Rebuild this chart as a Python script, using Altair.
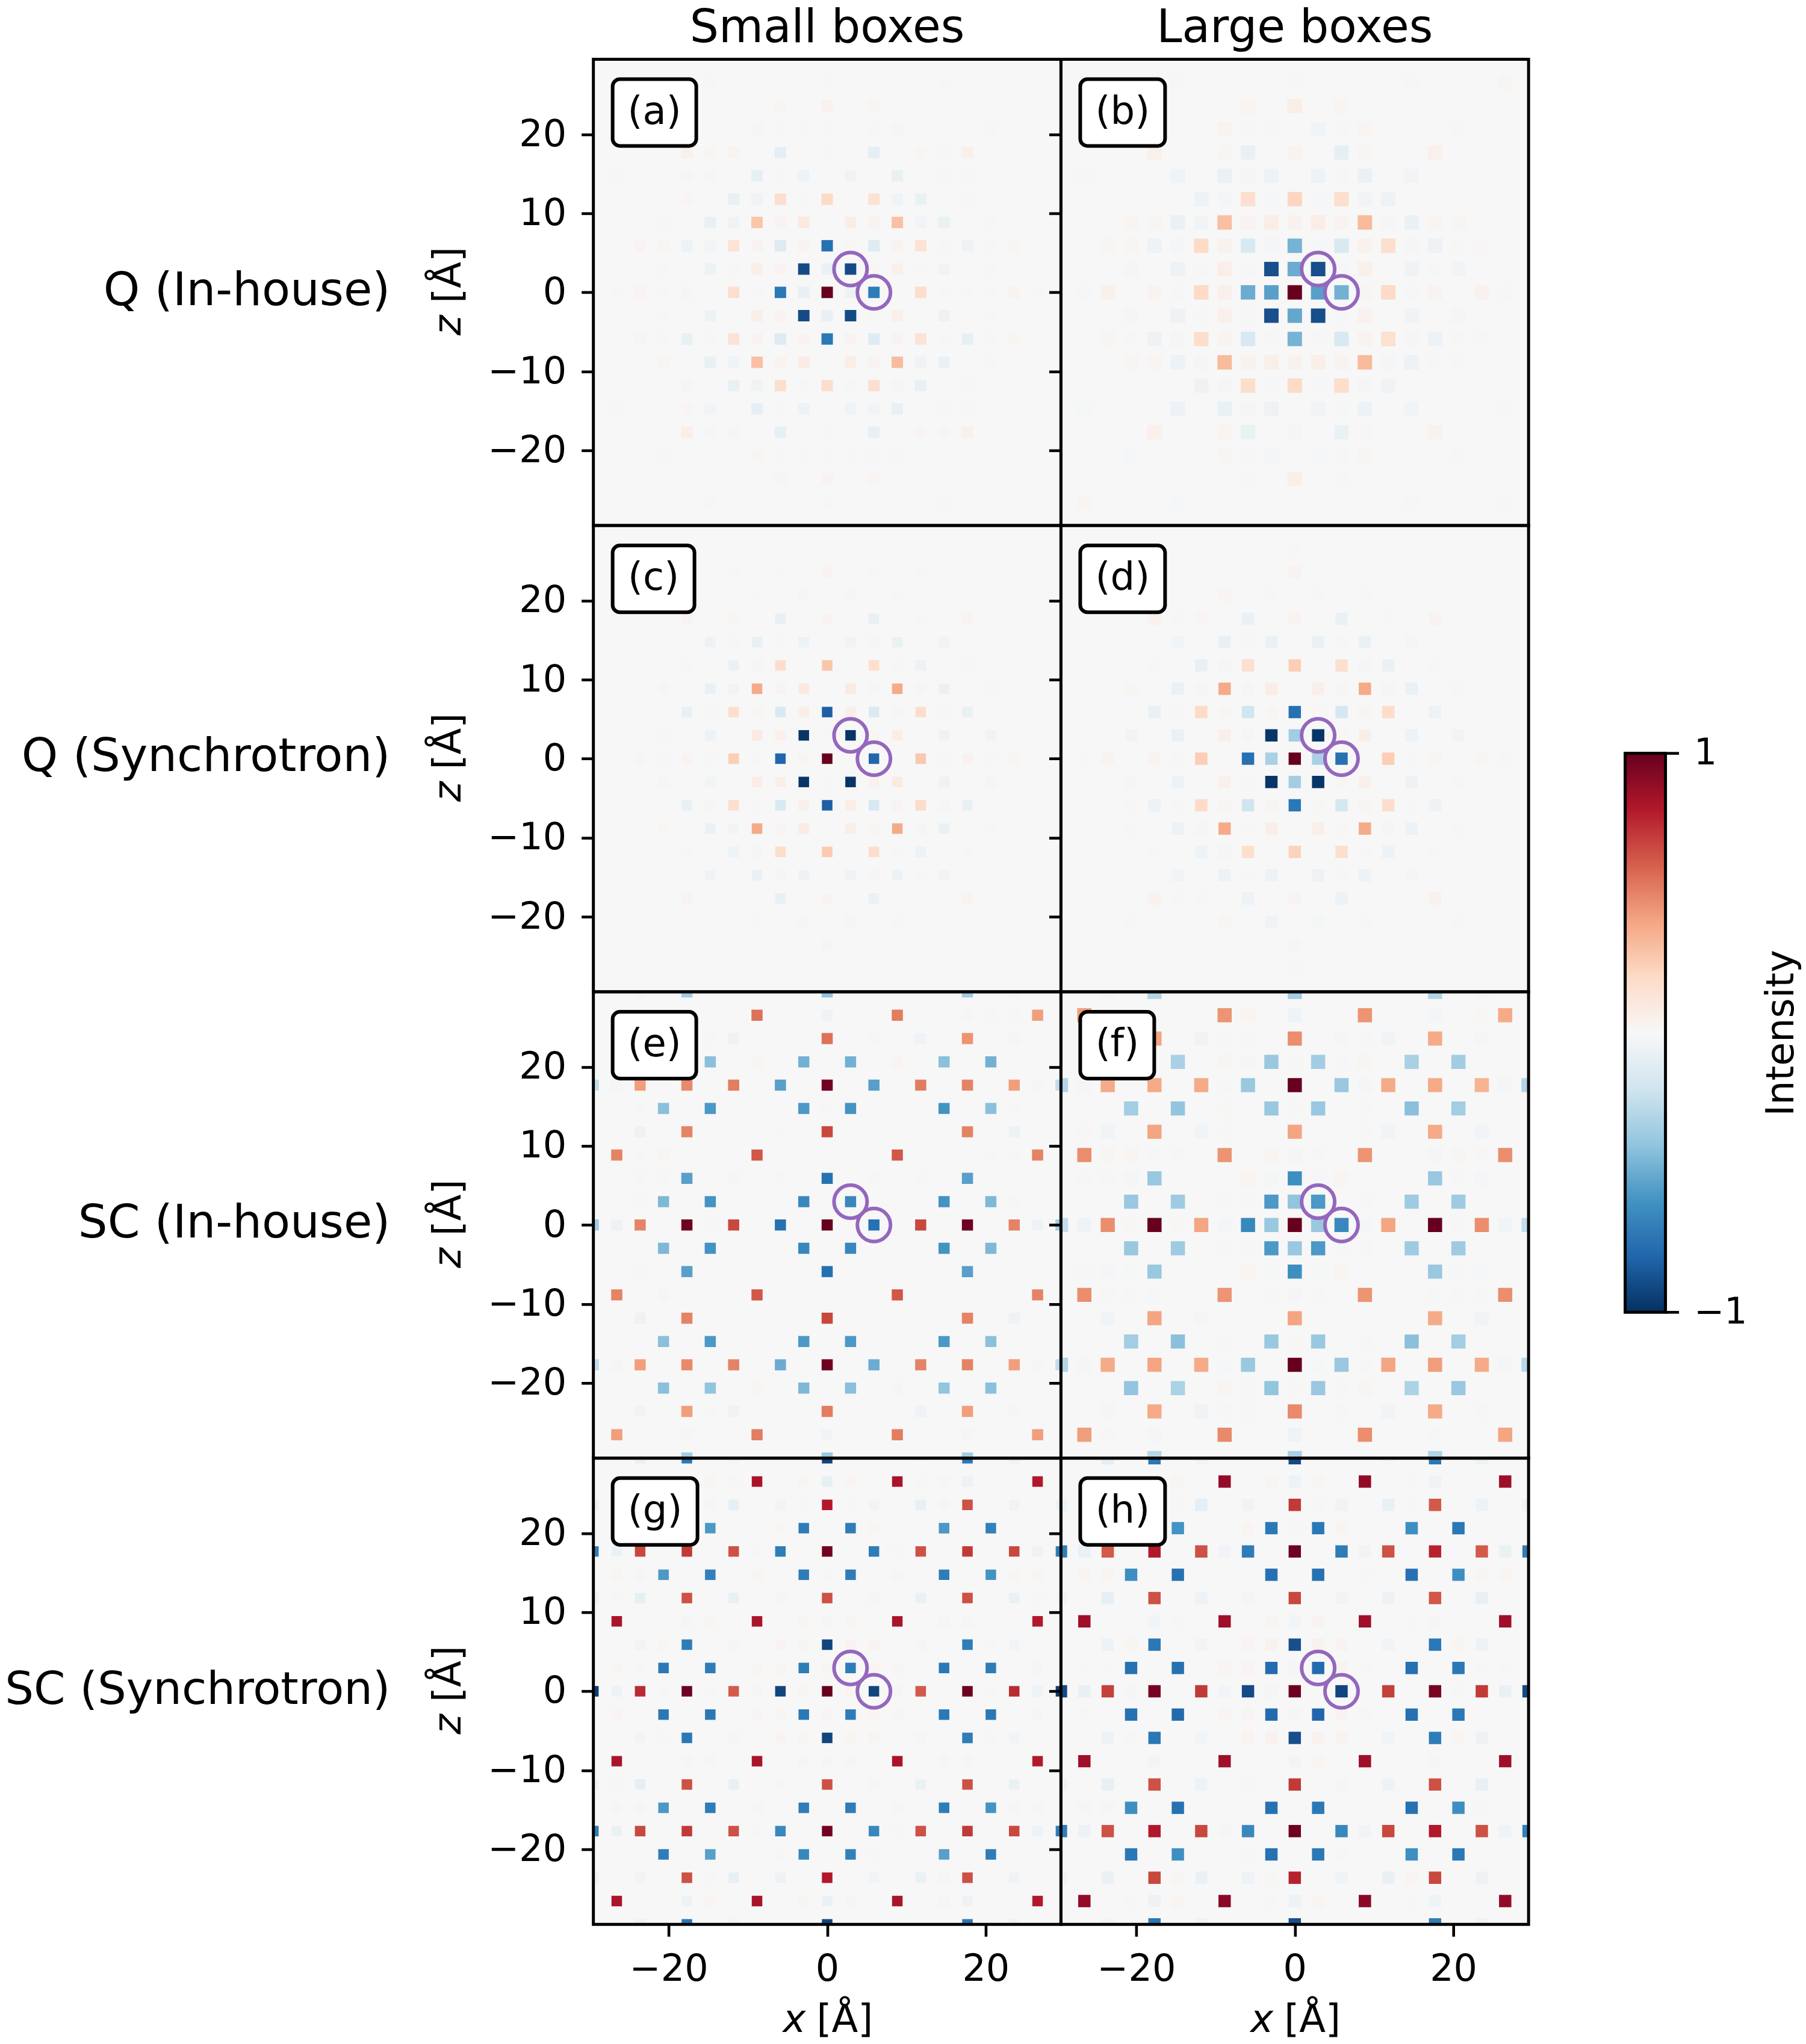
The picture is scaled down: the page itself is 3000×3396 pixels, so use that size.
import altair as alt
import pandas as pd

STEP = 2.95
PX_PER_UNIT = 777 / 59
W, H = 777, 774.7
FONT = "DejaVu Sans"

COLUMN_TITLES = ["Small boxes", "Large boxes"]
ROW_TITLES = ["Q (In-house)", "Q (Synchrotron)", "SC (In-house)", "SC (Synchrotron)"]
ROW_TITLE_SIZES = [77, 77, 77, 75.3]
PANEL_TAGS = ["(a)", "(b)", "(c)", "(d)", "(e)", "(f)", "(g)", "(h)"]
BOX_WIDTHS = [139, 141, 136, 141, 139, 123, 141, 141]
SQUARE_PX = [19, 24, 17.5, 20.5, 18.5, 23.5, 17.5, 20.5]
X_TICKS = [-20, 0, 20]
Z_TICKS = [-20, -10, 0, 10, 20]
CIRCLE_X = [2.95, 5.9]
CIRCLE_Z = [2.95, 0]
COLOR_DOMAIN = [-1, -0.8, -0.6, -0.4, -0.2, 0, 0.2, 0.4, 0.6, 0.8, 1]
COLOR_RANGE = ["#053061", "#2166ac", "#4393c3", "#92c5de", "#d1e5f0", "#f7f7f7",
               "#fddbc7", "#f4a582", "#d6604d", "#b2182b", "#67001f"]

# Intensity x 100; outer key is the grid row (z / 2.95), inner key the grid column (x / 2.95)
PANEL_A = {
 9: {-5:-1, 0:-1, 5:-1},
 8: {-2:2, 0:4, 2:2},
 7: {-3:2, -2:1, -1:-1, 0:-1, 2:1, 3:2, 7:-1},
 6: {-6:5, -5:2, -4:3, -2:-10, 0:1, 2:-10, 4:2, 5:1, 6:5},
 5: {-9:-1, -6:2, -5:-2, -3:-9, -2:-1, -1:-6, 1:-4, 3:-8, 5:-1, 6:1},
 4: {-6:2, -4:-8, -3:-4, -2:17, -1:-1, 0:20, 2:15, 3:-4, 4:-7, 6:1},
 3: {-7:-1, -5:-8, -4:-4, -3:28, -2:3, -1:10, 1:7, 2:3, 3:30, 4:-3, 5:-7, 7:1},
 2: {-8:3, -7:2, -6:-6, -5:-3, -4:14, -3:3, -2:-14, -1:3, 0:-75, 1:1, 2:-13, 3:3, 4:14, 5:-1, 6:-5, 7:1, 8:2},
 1: {-7:-1, -5:-5, -4:1, -3:6, -2:3, -1:-90, 0:-7, 1:-90, 2:1, 3:5, 4:1, 5:-4, 7:-1},
 0: {-9:-1, -8:3, -7:-1, -6:2, -4:17, -3:-1, -2:-72, -1:-8, 0:100, 1:-5, 2:-70, 4:18, 5:-1, 6:1, 7:-1, 8:3, 9:-1},
 -1: {-7:-1, -5:-5, -3:6, -2:3, -1:-90, 0:-8, 1:-90, 2:1, 3:5, 5:-5, 7:-1},
 -2: {-8:2, -7:-1, -6:-8, -5:-1, -4:14, -3:3, -2:-14, -1:3, 0:-72, 1:3, 2:-13, 3:3, 4:14, 5:-1, 6:-9, 7:-1, 8:2},
 -3: {-7:2, -5:-8, -4:-4, -3:30, -2:3, -1:8, 1:7, 2:3, 3:32, 4:-4, 5:-7, 7:1},
 -4: {-6:2, -4:-8, -3:-4, -2:17, -1:-1, 0:18, 1:-1, 2:17, 3:-2, 4:-8, 6:1},
 -5: {-9:-1, -6:2, -5:-3, -3:-9, -2:-1, -1:-5, 1:-4, 2:-3, 3:-8, 5:-1, 6:1},
 -6: {-6:6, -5:2, -4:2, -2:-9, 0:1, 2:-8, 4:2, 5:2, 6:5},
 -7: {-7:-1, -3:2, -2:1, -1:-1, 0:-1, 1:-1, 2:1, 3:1},
 -8: {-2:2, 0:3, 2:2},
 -9: {-5:-1, 0:-1, 5:-1},
}
PANEL_B = {
 9: {-5:-1, 0:-1, 5:-1, 9:2},
 8: {-2:2, 0:7, 2:2},
 7: {-3:3, -2:1, -1:-1, 1:-3, 2:1, 3:2, 7:-1},
 6: {-6:5, -3:2, -2:-8, 0:3, 2:-9, 3:2, 6:5},
 5: {-9:-1, -5:-4, -3:-7, -2:-2, -1:-5, 1:-5, 2:-1, 3:-7, 5:-3},
 4: {-4:-6, -3:-2, -2:17, -1:-1, 0:22, 1:-1, 2:17, 3:-3, 4:-5},
 3: {-7:2, -6:2, -5:-7, -4:-3, -3:30, -2:3, -1:7, 0:4, 1:7, 2:3, 3:32, 4:-2, 5:-7, 6:2, 7:2},
 2: {-8:2, -7:2, -6:-6, -5:-2, -4:20, -3:4, -2:-16, -1:-2, 0:-47, 1:-1, 2:-16, 3:4, 4:17, 5:-2, 6:-5, 7:1, 8:1},
 1: {-7:-2, -5:-5, -4:-1, -3:6, -2:-1, -1:-88, 0:-50, 1:-88, 2:-1, 3:5, 5:-4, 6:-1, 7:-3},
 0: {-9:-1, -8:5, -6:3, -5:-1, -4:20, -3:5, -2:-50, -1:-55, 0:100, 1:-55, 2:-48, 3:2, 4:20, 5:-1, 6:3, 8:4, 9:-1},
 -1: {-7:-2, -5:-5, -4:-1, -3:5, -2:-1, -1:-88, 0:-52, 1:-88, 2:-1, 3:4, 5:-4, 7:-2},
 -2: {-8:2, -7:1, -6:-5, -5:-2, -4:18, -3:3, -2:-16, -1:-1, 0:-47, 1:-1, 2:-16, 3:3, 4:16, 5:-2, 6:-6, 7:1, 8:1},
 -3: {-7:2, -6:2, -5:-6, -4:-2, -3:32, -2:4, -1:6, 0:4, 1:6, 2:3, 3:32, 4:-2, 5:-6, 6:1, 7:1},
 -4: {-4:-5, -3:-2, -2:18, -1:-1, 0:20, 1:-1, 2:18, 3:-2, 4:-4},
 -5: {-9:-1, -5:-6, -3:-7, -2:-2, -1:-5, 1:-3, 2:-1, 3:-6, 5:-3, 9:-1},
 -6: {-6:5, -3:2, -2:-7, 0:2, 2:-7, 3:1, 6:4},
 -7: {-7:-1, -3:2, -2:1, -1:-2, 1:-1, 2:1, 3:2, 7:-1},
 -8: {-2:1, 0:6, 2:1},
 -9: {-9:2, -5:-1, 5:-1, 9:1},
}
PANEL_C = {
 8: {-4:-1, -2:-1, 0:3, 2:1, 4:1},
 7: {-3:1, -1:-2, 1:-2, 3:-1},
 6: {-6:3, -4:2, -2:-8, 0:3, 2:-8, 4:1, 6:3},
 5: {-5:-5, -4:-1, -3:-8, -2:-1, -1:-6, 1:-4, 2:-2, 3:-7, 5:-4},
 4: {-6:1, -4:-7, -3:-2, -2:18, 0:28, 2:17, 3:-1, 4:-6, 6:1},
 3: {-7:2, -5:-7, -4:-3, -3:38, -2:3, -1:10, 1:9, 2:2, 3:38, 4:-2, 5:-7, 7:1},
 2: {-6:-8, -5:-1, -4:18, -3:2, -2:-16, -1:6, 0:-82, 1:6, 2:-15, 3:2, 4:18, 5:-1, 6:-7},
 1: {-7:-1, -5:-6, -3:9, -2:5, -1:-98, 0:1, 1:-98, 2:2, 3:7, 5:-6, 7:-4},
 0: {-8:2, -7:-1, -6:3, -5:-1, -4:25, -3:-1, -2:-80, -1:2, 0:100, 2:-80, 4:27, 5:-1, 6:4, 7:-1, 8:2},
 -1: {-7:-2, -5:-3, -3:7, -2:6, -1:-98, 0:1, 1:-98, 2:4, 3:9, 5:-6, 7:-2},
 -2: {-6:-8, -5:-2, -4:17, -3:1, -2:-16, -1:5, 0:-82, 1:7, 2:-17, 3:3, 4:19, 5:-2, 6:-8},
 -3: {-7:2, -5:-7, -4:-3, -3:38, -2:2, -1:8, 1:7, 2:2, 3:38, 4:-2, 5:-7, 7:1},
 -4: {-6:1, -4:-6, -3:-2, -2:18, 0:26, 2:18, 3:-1, 4:-6, 6:1},
 -5: {-5:-4, -3:-7, -2:-2, -1:-5, 1:-4, 2:-2, 3:-6, 4:-1, 5:-3},
 -6: {-6:3, -2:-8, 0:3, 2:-7, 6:3},
 -7: {-3:1, -1:-2, 1:-2, 3:1},
 -8: {0:2},
}
PANEL_D = {
 9: {0:-1},
 8: {0:3},
 7: {-3:2, -1:-1, 1:-1, 3:1},
 6: {-6:4, -5:1, -4:2, -2:-7, 0:3, 2:-7, 4:1, 6:3},
 5: {-5:-3, -3:-8, -2:-1, -1:-7, 1:-7, 2:-1, 3:-7, 5:-2},
 4: {-6:1, -4:-8, -3:-2, -2:17, 0:25, 2:17, 3:-2, 4:-7, 6:1},
 3: {-7:2, -5:-7, -4:-2, -3:38, -2:2, -1:7, 1:6, 2:2, 3:38, 4:-2, 5:-7, 7:1},
 2: {-6:-7, -5:-1, -4:20, -3:2, -2:-20, -1:2, 0:-75, 1:1, 2:-18, 3:2, 4:19, 6:-6},
 1: {-7:-3, -5:-7, -3:6, -2:2, -1:-98, 0:-35, 1:-98, 2:1, 3:6, 5:-6, 7:-3},
 0: {-9:-1, -8:3, -6:3, -5:-1, -4:25, -2:-75, -1:-33, 0:100, 1:-33, 2:-75, 4:25, 5:-1, 6:2, 8:2, 9:-1},
 -1: {-7:-2, -5:-6, -3:5, -2:1, -1:-98, 0:-35, 1:-98, 2:1, 3:5, 5:-5, 7:-1},
 -2: {-7:1, -6:-6, -5:-1, -4:20, -3:2, -2:-20, -1:2, 0:-72, 1:1, 2:-18, 3:2, 4:18, 5:-1, 6:-5},
 -3: {-7:1, -5:-6, -4:-2, -3:38, -2:1, -1:6, 1:6, 2:1, 3:38, 4:-2, 5:-6, 7:1},
 -4: {-6:1, -4:-6, -3:-2, -2:17, 0:23, 2:17, 3:-1, 4:-6, 6:1},
 -5: {-5:-3, -3:-6, -2:-1, -1:-6, 1:-5, 2:-1, 3:-6, 5:-2},
 -6: {-6:4, -5:1, -4:1, -2:-6, 0:3, 2:-6, 6:4},
 -7: {-7:-1, -3:2, -1:-4, 1:-2, 3:1, 7:-1},
 -8: {0:2},
 -9: {0:-1},
}
PANEL_E = {
 10: {-8:-2, -6:-35, 0:-40, 6:-35, 8:-2},
 9: {-3:55, 0:-4, 3:52, 6:-2, 7:1, 8:1, 9:42},
 8: {-5:1, -4:-5, 0:55, 2:-1, 4:-4, 6:45, 8:-2},
 7: {-7:-45, -5:-42, -3:2, -1:-48, 1:-48, 3:2, 5:-42, 7:-48},
 6: {-10:-25, -9:-2, -8:42, -6:48, -4:52, -2:-55, 0:97, 2:-55, 4:52, 6:50, 8:42, 9:-2, 10:-25},
 5: {-8:1, -7:-42, -5:-58, -1:-58, 0:1, 1:-60, 5:-60, 7:-42, 8:1},
 4: {-8:-5, -6:50, -2:-1, 0:68, 6:50, 8:-5},
 3: {-9:50, -8:1, -7:2, -3:63, 3:63, 7:1, 8:1, 9:50},
 2: {-8:-1, -7:1, -6:-55, -4:-2, -2:1, 0:-75, 2:1, 4:-1, 6:-55},
 1: {-8:1, -7:-45, -5:-60, -1:-65, 1:-65, 5:-60, 7:-45, 8:1},
 0: {-10:-35, -9:-5, -8:50, -6:98, -5:1, -4:68, -2:-75, 0:100, 2:-75, 4:68, 6:98, 8:50, 9:-5, 10:-35},
 -1: {-7:-45, -5:-60, -1:-65, 1:-65, 5:-60, 7:-45},
 -2: {-8:-1, -6:-55, 0:-75, 6:-55},
 -3: {-9:50, -7:2, -3:63, 3:63, 9:50},
 -4: {-8:-5, -6:50, 0:68, 6:50, 8:-5},
 -5: {-7:-42, -5:-58, -1:-58, 1:-58, 5:-58, 7:-42},
 -6: {-10:-25, -9:-2, -8:42, -6:48, -4:50, -2:-50, 0:98, 2:-50, 4:50, 6:50, 8:42, 9:-2, 10:-25},
 -7: {-7:-42, -5:-40, -3:2, -1:-45, 1:-42, 3:2, 5:-40, 7:-42},
 -8: {-8:-3, -6:42, -5:1, -4:-5, 0:52, 4:-4, 6:42, 8:-2},
 -9: {-9:42, -6:-2, -3:52, 0:-3, 3:52, 6:-2, 9:42},
 -10: {-6:-35, 0:-38, 6:-35},
}
PANEL_F = {
 10: {-8:-2, -6:-30, 0:-35, 6:-30, 8:-2},
 9: {-9:42, -3:45, -2:2, 0:-4, 3:45, 6:-2, 8:1, 9:38},
 8: {-6:40, -4:-4, -3:1, -2:-1, 0:47, 2:-2, 3:1, 4:-3, 6:38, 8:-2},
 7: {-7:-33, -5:-33, -3:2, -2:-2, -1:-38, 0:1, 1:-35, 2:-1, 3:2, 5:-33, 7:-35},
 6: {-10:-30, -9:-2, -8:38, -6:38, -4:38, -3:-1, -2:-38, 0:100, 2:-38, 3:-2, 4:38, 6:38, 8:35, 9:-2, 10:-30},
 5: {-7:-35, -5:-40, -3:1, -1:-38, 0:1, 1:-38, 3:1, 5:-42, 7:-35},
 4: {-9:1, -8:-3, -6:40, -4:-3, -3:1, 0:40, 3:1, 4:-3, 6:38, 8:-3},
 3: {-9:47, -8:2, -7:2, -6:-1, -5:1, -3:45, -1:2, 0:-2, 1:1, 3:45, 6:-2, 7:2, 8:1, 9:47},
 2: {-9:1, -8:-1, -7:-2, -6:-38, -2:2, -1:-2, 0:-62, 1:-1, 2:2, 6:-38, 7:-1, 8:-2},
 1: {-7:-38, -5:-36, -3:1, -2:-1, -1:-58, 0:-40, 1:-58, 3:1, 5:-36, 7:-36},
 0: {-10:-25, -9:-4, -8:47, -7:1, -6:100, -5:1, -4:40, -3:-2, -2:-65, -1:-38, 0:100, 1:-38, 2:-65, 3:-2, 4:40, 6:100, 7:1, 8:47, 9:-3, 10:-25},
 -1: {-7:-38, -5:-36, -3:1, -2:-1, -1:-58, 0:-38, 1:-58, 2:-1, 3:1, 5:-36, 7:-36},
 -2: {-9:1, -8:-2, -7:-1, -6:-38, -2:2, -1:-1, 0:-62, 1:-1, 2:2, 6:-38, 7:-1, 8:-1},
 -3: {-9:47, -8:1, -7:1, -6:-1, -3:45, -1:1, 0:-2, 1:1, 3:45, 6:-1, 7:1, 8:1, 9:47},
 -4: {-8:-3, -6:40, -4:-2, 0:40, 6:38, 8:-3},
 -5: {-7:-35, -5:-42, -3:1, -1:-38, 0:1, 1:-38, 3:1, 5:-42, 7:-35},
 -6: {-10:-30, -9:-2, -8:38, -6:40, -4:38, -3:-1, -2:-38, 0:100, 1:-1, 2:-38, 3:-1, 4:40, 6:42, 8:38, 9:-2, 10:-28},
 -7: {-7:-40, -5:-32, -3:2, -2:-1, -1:-40, 0:1, 1:-38, 2:-1, 3:2, 5:-32, 7:-38},
 -8: {-8:-2, -6:38, -4:-4, -3:1, -2:-1, 0:48, 2:-1, 4:-3, 6:38, 8:-1},
 -9: {-9:42, -8:1, -6:-2, -3:48, 0:-4, 3:47, 6:-1, 9:40},
 -10: {-6:-28, 0:-33, 6:-30},
}
PANEL_G = {
 10: {-8:-8, -6:-72, -4:-3, 0:-92, 4:-1, 6:-72, 8:-6},
 9: {-5:2, -4:-1, -3:82, -1:2, 0:-9, 1:2, 3:82, 4:-1, 5:2, 6:-6, 9:80},
 8: {-10:-6, -5:2, -4:-9, -2:-3, -1:1, 0:80, 1:1, 2:-3, 4:-8, 5:2, 6:65, 8:-4, 10:-6},
 7: {-7:-62, -5:-58, -2:2, -1:-70, 1:-70, 2:2, 5:-58, 7:-68},
 6: {-10:-70, -9:-7, -8:68, -6:72, -4:65, -3:-1, -2:-70, 0:97, 2:-70, 3:-1, 4:65, 6:72, 8:68, 9:-6, 10:-70},
 5: {-9:2, -8:2, -7:-58, -5:-68, -3:2, -1:-70, 0:1, 1:-70, 3:2, 5:-70, 7:-60, 8:2, 9:2},
 4: {-10:-5, -9:-1, -8:-9, -6:65, -4:-8, -2:-2, 0:65, 2:-2, 4:-7, 6:65, 8:-7, 9:-1, 10:-1},
 3: {-9:82, -6:-2, -5:2, -3:82, -1:2, 0:-2, 1:2, 3:82, 5:2, 6:-2, 9:80},
 2: {-8:-3, -7:2, -6:-70, -4:-2, -2:3, -1:2, 0:-92, 1:3, 2:3, 4:-2, 6:-70, 7:1, 8:-3},
 1: {-9:2, -8:1, -7:-72, -5:-70, -3:2, -2:2, -1:-70, 0:2, 1:-70, 2:2, 3:2, 5:-72, 7:-70, 9:2},
 0: {-10:-95, -9:-6, -8:76, -7:-1, -6:98, -5:1, -4:62, -3:-2, -2:-92, -1:2, 0:100, 1:2, 2:-92, 3:-2, 4:62, 6:98, 7:-1, 8:76, 9:-6, 10:-95},
 -1: {-9:2, -7:-72, -5:-72, -3:2, -2:2, -1:-72, 0:2, 1:-70, 2:2, 3:2, 5:-72, 7:-72, 9:2},
 -2: {-8:-3, -7:1, -6:-72, -4:-2, -2:3, -1:2, 0:-92, 1:2, 2:3, 4:-2, 6:-70, 7:1, 8:-3},
 -3: {-9:82, -6:-2, -5:2, -3:82, -1:2, 0:-2, 1:2, 3:82, 5:2, 6:-2, 9:80},
 -4: {-10:-5, -9:-1, -8:-9, -6:65, -4:-8, -2:-2, 0:65, 2:-2, 4:-7, 6:65, 8:-7},
 -5: {-9:2, -8:2, -7:-58, -5:-70, -3:2, -1:-70, 1:-70, 3:2, 5:-70, 7:-60, 8:2, 9:2},
 -6: {-10:-70, -9:-7, -8:68, -6:72, -4:65, -3:-1, -2:-65, 0:97, 2:-65, 3:-1, 4:65, 6:72, 8:68, 9:-6, 10:-70},
 -7: {-7:-70, -5:-55, -2:1, -1:-65, 1:-68, 2:1, 5:-55, 7:-70},
 -8: {-10:-6, -8:-3, -6:65, -5:1, -4:-9, -2:-5, 0:80, 2:-3, 4:-7, 5:2, 6:65, 8:-4},
 -9: {-9:82, -6:-6, -5:2, -3:82, -1:2, 0:-7, 1:2, 3:82, 5:2, 6:-5, 9:80},
 -10: {-8:-6, -6:-72, -4:-3, 0:-92, 6:-72, 8:-6},
}
PANEL_H = {
 10: {-8:-10, -6:-72, -4:-4, 0:-90, 4:-2, 6:-72, 8:-6},
 9: {-5:2, -3:88, -1:2, 0:-6, 1:2, 3:88, 5:1, 6:-4, 9:85},
 8: {-10:-6, -5:1, -4:-10, -2:-4, 0:72, 1:1, 2:-4, 4:-8, 5:1, 6:62, 8:-6, 10:-6},
 7: {-7:-60, -5:-60, -2:2, -1:-72, 0:-1, 1:-72, 2:2, 5:-62, 7:-72},
 6: {-10:-70, -9:-7, -8:62, -6:80, -4:65, -3:-3, -2:-70, 0:98, 2:-70, 3:-3, 4:65, 6:78, 8:62, 9:-7, 10:-70},
 5: {-9:2, -8:2, -7:-62, -5:-75, -1:-75, 1:-75, 3:1, 5:-75, 7:-62, 8:2, 9:2},
 4: {-10:-5, -8:-9, -6:65, -4:-6, -2:-2, 0:68, 2:-3, 4:-5, 6:63, 8:-8},
 3: {-9:85, -6:-3, -5:1, -3:85, -1:2, 0:-3, 1:3, 3:85, 5:1, 6:-2, 9:85},
 2: {-8:-6, -7:2, -6:-72, -4:-3, -2:3, -1:4, 0:-88, 1:4, 2:3, 4:-3, 6:-72, 7:2, 8:-5},
 1: {-9:1, -8:1, -7:-75, -5:-75, -3:2, -2:3, -1:-78, 0:-2, 1:-78, 2:3, 3:1, 5:-75, 7:-72, 8:1, 9:1},
 0: {-10:-90, -9:-8, -8:70, -7:-2, -6:95, -4:72, -3:-3, -2:-90, -1:-2, 0:98, 2:-92, 4:70, 6:95, 7:-1, 8:72, 9:-7, 10:-90},
 -1: {-9:1, -7:-75, -5:-78, -3:2, -2:3, -1:-78, 0:-2, 1:-80, 2:3, 3:1, 5:-75, 7:-72},
 -2: {-8:-6, -7:1, -6:-72, -4:-3, -2:3, -1:4, 0:-88, 1:4, 2:3, 4:-3, 6:-70, 7:2, 8:-5},
 -3: {-9:85, -6:-3, -3:85, 0:-3, 1:2, 3:85, 6:-2, 9:85},
 -4: {-10:-5, -8:-8, -6:65, -4:-6, -2:-1, 0:72, 2:-2, 4:-6, 6:65, 8:-8},
 -5: {-9:2, -8:2, -7:-62, -5:-75, -1:-75, 1:-72, 5:-75, 7:-62, 8:1},
 -6: {-10:-70, -9:-5, -8:65, -6:80, -4:68, -3:-2, -2:-65, 0:98, 2:-65, 3:-3, 4:68, 6:80, 8:65, 9:-4, 10:-68},
 -7: {-7:-72, -5:-62, -2:1, -1:-75, 1:-72, 2:1, 5:-62, 7:-72},
 -8: {-10:-5, -8:-7, -6:68, -5:2, -4:-7, -2:-4, -1:1, 0:78, 2:-4, 4:-8, 5:2, 6:68, 8:-5},
 -9: {-9:88, -7:1, -6:-5, -5:2, -3:90, -1:1, 0:-6, 1:2, 3:90, 5:1, 6:-4, 9:88},
 -10: {-8:-3, -6:-72, -4:-4, 0:-88, 6:-70, 8:-4},
}
PANELS = [PANEL_A, PANEL_B, PANEL_C, PANEL_D, PANEL_E, PANEL_F, PANEL_G, PANEL_H]

X_SCALE = alt.Scale(domain=[-29.5, 29.5], nice=False, zero=False)
Z_SCALE = alt.Scale(domain=[-29.5, 29.5], nice=False, zero=False)
COLOR_SCALE = alt.Scale(domain=COLOR_DOMAIN, range=COLOR_RANGE, clamp=True)
ONE = pd.DataFrame({"o": [0]})


def table(panel, square_px):
    half = square_px / PX_PER_UNIT / 2
    rows = []
    for j, row in panel.items():
        for i, v in row.items():
            rows.append({"x0": i * STEP - half, "x1": i * STEP + half,
                         "z0": j * STEP - half, "z1": j * STEP + half, "v": v / 100})
    return pd.DataFrame(rows)


def word(text, x, y, size, angle=0, align="left", style="normal"):
    return alt.Chart(ONE).mark_text(
        text=text, font=FONT, fontSize=size, angle=angle, align=align,
        baseline="alphabetic", color="black", fontStyle=style,
    ).encode(x=alt.value(x), y=alt.value(y))


def panel_chart(k):
    col, row = k % 2, k // 2
    x_axis = None
    if row == 3:
        x_axis = alt.Axis(values=X_TICKS, title=None, grid=False, domain=False, tickSize=20,
                          tickWidth=4.6, tickColor="black", labelColor="black", labelFont=FONT,
                          labelFontSize=62, labelPadding=24, format="d")
    y_axis = alt.Axis(values=Z_TICKS, title=None, grid=False, domain=False, tickSize=20,
                      tickWidth=4.6, tickColor="black", labelColor="black", labelFont=FONT,
                      labelFontSize=62, labelPadding=25, labels=col == 0, format="d")
    ground = alt.Chart(ONE).mark_rect(fill="#f7f7f7").encode(
        x=alt.value(0), x2=alt.value(W), y=alt.value(0), y2=alt.value(H))
    cells = alt.Chart(table(PANELS[k], SQUARE_PX[k])).mark_rect(clip=True, strokeWidth=0).encode(
        x=alt.X("x0:Q", scale=X_SCALE, axis=x_axis),
        x2="x1:Q",
        y=alt.Y("z0:Q", scale=Z_SCALE, axis=y_axis),
        y2="z1:Q",
        color=alt.Color("v:Q", scale=COLOR_SCALE, legend=None),
    )
    rings = alt.Chart(pd.DataFrame({"x": CIRCLE_X, "z": CIRCLE_Z})).mark_point(
        shape="circle", filled=False, size=3025, strokeWidth=6, color="#9467bd", opacity=1,
    ).encode(x=alt.X("x:Q", scale=X_SCALE, axis=x_axis), y=alt.Y("z:Q", scale=Z_SCALE, axis=y_axis))
    box = alt.Chart(ONE).mark_rect(fill="white", stroke="black", strokeWidth=6, cornerRadius=12).encode(
        x=alt.value(32), x2=alt.value(32 + BOX_WIDTHS[k]), y=alt.value(33), y2=alt.value(144))
    tag = word(PANEL_TAGS[k], 32 + BOX_WIDTHS[k] / 2, 107, 64, align="center")
    frame = alt.Chart(ONE).mark_rect(fillOpacity=0, stroke="black", strokeWidth=5).encode(
        x=alt.value(0), x2=alt.value(W), y=alt.value(0), y2=alt.value(H))
    layers = [ground, cells, rings, box, tag, frame]
    if row == 0:
        layers.append(word(COLUMN_TITLES[col], W / 2, -28.6, 76, align="center"))
    if col == 0:
        layers.append(word(ROW_TITLES[row], -337.5, H / 2 + 21, ROW_TITLE_SIZES[row], align="right"))
        layers.append(word("z", -220.5, H / 2 + 71.5, 64, angle=270, style="italic"))
        layers.append(word("[Å]", -220.5, H / 2 + 18, 64, angle=270))
    if row == 3:
        layers.append(word("x", W / 2 - 73.5, H + 179, 64, style="italic"))
        layers.append(word("[Å]", W / 2 - 17.5, H + 179, 64))
    return alt.layer(*layers).properties(width=W, height=H)


BAR_STOPS = [alt.GradientStop(color=c, offset=(d + 1) / 2) for c, d in zip(COLOR_RANGE, COLOR_DOMAIN)]
BAR_LEFT, BAR_W = 160.5, 67
colorbar = alt.Chart(pd.DataFrame({"lo": [-1], "hi": [1]})).mark_rect(
    fill=alt.LinearGradient(gradient="linear", stops=BAR_STOPS, x1=0, x2=0, y1=1, y2=0),
    stroke="black", strokeWidth=5,
).encode(
    x=alt.value(BAR_LEFT), x2=alt.value(BAR_LEFT + BAR_W),
    y=alt.Y("lo:Q", scale=alt.Scale(domain=[-1, 1], range=[2082.4, 1153.4], nice=False, zero=False),
            axis=alt.Axis(orient="right", values=[-1, 0, 1], title="Intensity", grid=False, domain=False,
                          tickSize=22, tickWidth=4.6, tickColor="black", labelColor="black",
                          labelFont=FONT, labelFontSize=60, labelPadding=25, titleFont=FONT,
                          titleFontSize=63.5, titleFontWeight="normal", titleColor="black",
                          titlePadding=90, titleAngle=270, format="d")),
    y2="hi:Q",
).properties(width=BAR_LEFT + BAR_W, height=H)


def blank():
    return alt.Chart(ONE).mark_point(opacity=0).encode(
        x=alt.value(0), y=alt.value(0)).properties(width=BAR_LEFT + BAR_W, height=H)


charts = [panel_chart(0), panel_chart(1), colorbar,
          panel_chart(2), panel_chart(3), blank(),
          panel_chart(4), panel_chart(5), blank(),
          panel_chart(6), panel_chart(7)]

chart = alt.concat(*charts, columns=3, spacing=0, bounds="flush").configure_view(
    strokeWidth=0
).properties(padding={"left": 0, "top": 0, "right": 0, "bottom": 0}, background="white")

chart.save("out.html", embed_options={"renderer": "svg", "actions": False})
